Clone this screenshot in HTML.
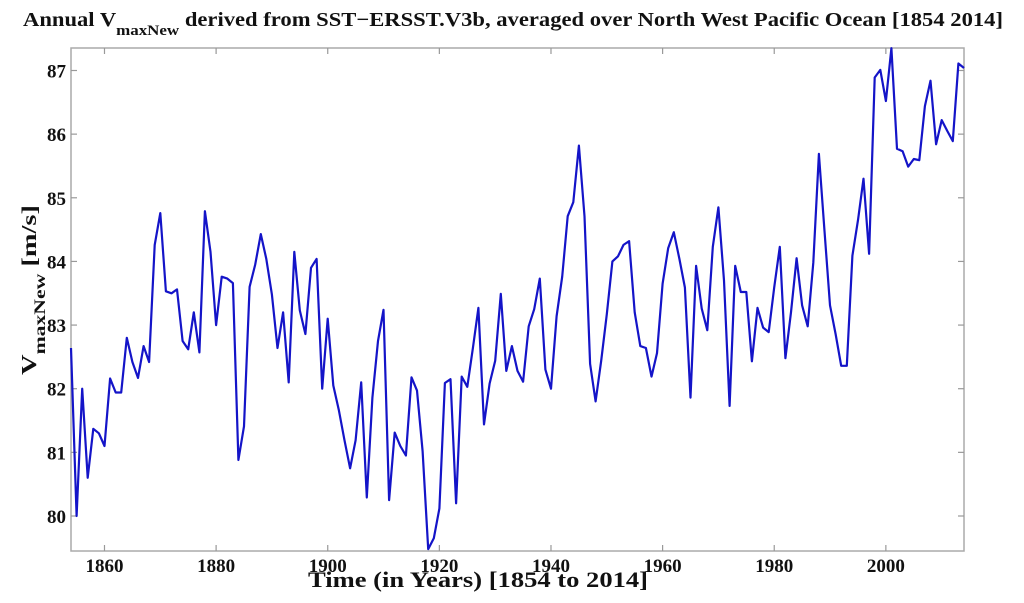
<!DOCTYPE html>
<html><head><meta charset="utf-8"><style>
body{margin:0;background:#fff;}
svg{display:block;font-family:"Liberation Serif",serif;font-weight:bold;}
</style></head><body>
<svg id="chart" width="1024" height="603" viewBox="0 0 1024 603">
<text x="23" y="26" font-size="20" fill="#111" textLength="980" lengthAdjust="spacingAndGlyphs">Annual V<tspan font-size="15" dy="9">maxNew</tspan><tspan dy="-9"> derived from SST−ERSST.V3b, averaged over North West Pacific Ocean [1854 2014]</tspan></text>
<text transform="translate(36,290) rotate(-90)" text-anchor="middle" font-size="21" fill="#111" textLength="170" lengthAdjust="spacingAndGlyphs">V<tspan font-size="16" dy="9">maxNew</tspan><tspan dy="-9"> [m/s]</tspan></text>
<text x="478" y="587" text-anchor="middle" font-size="22" fill="#111" textLength="340" lengthAdjust="spacingAndGlyphs">Time (in Years) [1854 to 2014]</text>
<g id="axes"></g>
<g id="series"></g>
</svg>
<script>
const years=[];for(let y=1854;y<=2014;y++)years.push(y);
const values=[82.64,80.0,82.0,80.6,81.37,81.3,81.1,82.16,81.94,81.94,82.8,82.42,82.17,82.67,82.42,84.26,84.76,83.53,83.5,83.56,82.75,82.62,83.2,82.57,84.79,84.15,83.0,83.76,83.73,83.66,80.88,81.41,83.6,83.95,84.43,84.04,83.48,82.64,83.2,82.1,84.15,83.23,82.86,83.9,84.04,82.0,83.1,82.05,81.66,81.19,80.75,81.19,82.1,80.29,81.86,82.75,83.24,80.25,81.31,81.1,80.95,82.18,81.97,81.02,79.48,79.65,80.12,82.09,82.15,80.2,82.19,82.03,82.64,83.27,81.44,82.08,82.44,83.49,82.28,82.67,82.28,82.11,82.98,83.25,83.73,82.3,82.0,83.14,83.76,84.71,84.93,85.82,84.71,82.39,81.8,82.44,83.17,84.0,84.08,84.26,84.32,83.2,82.67,82.64,82.19,82.56,83.65,84.21,84.46,84.04,83.59,81.86,83.93,83.26,82.92,84.23,84.85,83.7,81.73,83.93,83.52,83.52,82.43,83.27,82.96,82.89,83.59,84.23,82.48,83.2,84.05,83.31,82.98,83.98,85.69,84.48,83.31,82.86,82.36,82.36,84.09,84.65,85.3,84.12,86.89,87.01,86.52,87.35,85.77,85.73,85.49,85.61,85.59,86.44,86.84,85.84,86.22,86.05,85.89,87.11,87.04];
const xTicks=[1860,1880,1900,1920,1940,1960,1980,2000];
const yTicks=[80,81,82,83,84,85,86,87];
const NS="http://www.w3.org/2000/svg";
const L=71,R=964,T=48,B=551,x0=1854,x1=2014;
function sx(v){return L+(v-x0)/(x1-x0)*(R-L);}
function sy(v){return 70.5+(87-v)*(516-70.5)/7;}
function mk(t,a,p){const e=document.createElementNS(NS,t);for(const k in a)e.setAttribute(k,a[k]);p.appendChild(e);return e;}
const ax=document.getElementById('axes');
const fr=mk('rect',{x:L,y:T,width:R-L,height:B-T,fill:'none',stroke:'#aaa','stroke-width':1.5},ax);


xTicks.forEach(v=>{
 const X=sx(v);
 const t1=mk('line',{x1:X,x2:X,y1:B,y2:B-6,stroke:'#999','stroke-width':1.2},ax);
 
 
 const t2=mk('line',{x1:X,x2:X,y1:T,y2:T+6,stroke:'#999','stroke-width':1.2},ax);
 
 
 const tx=mk('text',{x:X,y:572,'text-anchor':'middle','font-size':19,fill:'#111'},ax);
 tx.textContent=v;
 
 
});
yTicks.forEach(v=>{
 const Y=sy(v);
 const t1=mk('line',{x1:L,x2:L+6,y1:Y,y2:Y,stroke:'#999','stroke-width':1.2},ax);
 
 
 const t2=mk('line',{x1:R,x2:R-6,y1:Y,y2:Y,stroke:'#999','stroke-width':1.2},ax);
 
 
 const tx=mk('text',{x:66,y:Y+7,'text-anchor':'end','font-size':19,fill:'#111'},ax);
 tx.textContent=v;
 
 
});
const d=values.map((v,i)=>(i?'L':'M')+sx(years[i]).toFixed(1)+','+sy(v).toFixed(1)).join('');
const ln=mk('path',{d:d,fill:'none',stroke:'#1414c8','stroke-width':2.2,'stroke-linejoin':'round'},document.getElementById('series'));


</script>
</body></html>
